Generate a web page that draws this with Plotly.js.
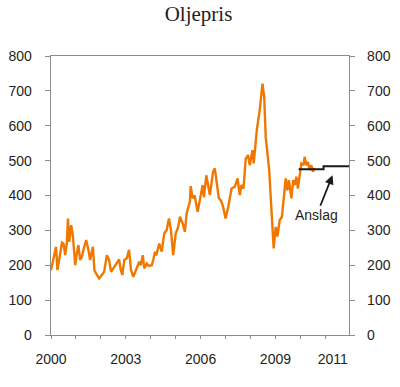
<!DOCTYPE html>
<html>
<head>
<meta charset="utf-8">
<script src="https://cdn.plot.ly/plotly-3.0.1.min.js"></script>
<style>html,body{margin:0;padding:0;background:#fff;}#chart{width:400px;height:387px;}</style>
</head>
<body>
<div id="chart"></div>
<script>
// Oil price (NOK per barrel), decimal years
const years = [2000.00,2000.08,2000.14,2000.20,2000.26,2000.37,2000.44,2000.50,2000.57,2000.64,2000.68,2000.73,2000.81,2000.88,2000.97,
2001.04,2001.10,2001.17,2001.24,2001.32,2001.41,2001.50,2001.57,2001.68,2001.74,2001.84,2001.93,
2002.04,2002.13,2002.24,2002.33,2002.41,2002.50,2002.64,2002.73,2002.80,2002.86,2002.94,
2003.04,2003.13,2003.21,2003.30,2003.44,2003.54,2003.60,2003.68,2003.74,2003.84,2003.92,
2004.04,2004.10,2004.17,2004.22,2004.34,2004.44,2004.54,2004.64,2004.73,2004.81,2004.90,
2005.00,2005.10,2005.17,2005.28,2005.37,2005.44,2005.57,2005.60,2005.68,2005.76,2005.88,
2006.00,2006.08,2006.13,2006.23,2006.37,2006.50,2006.57,2006.67,2006.73,2006.82,2006.90,
2007.00,2007.11,2007.24,2007.37,2007.48,2007.57,2007.64,2007.72,2007.81,2007.90,2007.97,
2008.08,2008.13,2008.17,2008.21,2008.26,2008.37,2008.48,2008.55,2008.61,2008.68,2008.75,2008.81,2008.86,2008.93,
2009.01,2009.08,2009.17,2009.26,2009.34,2009.41,2009.48,2009.54,2009.64,2009.71,2009.77,2009.84,2009.90,2009.97,
2010.04,2010.13,2010.17,2010.24,2010.30,2010.37,2010.44,2010.50,2010.57];
const prices = [186,210,229,253,186,234,265,262,229,267,334,267,315,282,200,
235,258,215,224,250,272,244,215,253,186,172,162,
172,181,229,215,181,191,210,217,186,172,215,
220,244,186,167,191,210,200,229,191,205,198,
200,215,239,228,262,239,291,301,334,301,229,
291,310,339,320,296,349,382,427,392,400,353,
400,430,395,458,401,468,478,425,392,385,368,
334,368,420,425,449,401,430,420,506,516,487,
530,492,540,554,592,645,721,683,568,521,473,396,320,248,
310,282,329,339,396,449,415,444,392,444,430,454,420,458,
492,487,511,487,497,473,487,468,478];

// Forecast ("Anslag")
const forecastYears = [2009.93, 2010.93, 2011.95];
const forecastValues = [475, 484, 484];

const yTicks = [0,100,200,300,400,500,600,700,800];
const xTickVals = [2000, 2003, 2006, 2009, 2011.3];
const xTickText = ['2000','2003','2006','2009','2011'];

const axisColor = '#8c8c8c';
const textFont = {family:'"Liberation Sans", Arial, sans-serif', size:14, color:'#231f20'};

const data = [
  {x: years, y: prices, type:'scatter', mode:'lines', line:{color:'#f07800', width:2.4}, hoverinfo:'skip'},
  {x: forecastYears, y: forecastValues, type:'scatter', mode:'lines', line:{color:'#1a1a1a', width:2, shape:'hv'}, yaxis:'y2', hoverinfo:'skip'}
];

const layout = {
  width:400, height:387,
  margin:{l:51, r:51, t:56, b:52},
  paper_bgcolor:'#fff', plot_bgcolor:'#fff',
  showlegend:false,
  title:{text:'Oljepris', font:{family:'"Liberation Serif", "Times New Roman", serif', size:21, color:'#231f20'}, x:0.495, xanchor:'center', xref:'paper', y:0.965, yanchor:'middle', yref:'container'},
  xaxis:{range:[2000, 2011.95], showgrid:false, zeroline:false, showline:true, linecolor:axisColor, linewidth:1.3, mirror:true,
    tickmode:'array', tickvals:xTickVals, ticktext:xTickText, ticks:'', tickfont:textFont, ticklabelstandoff:11,
    minor:{tickmode:'linear', tick0:2000, dtick:1, ticks:'outside', ticklen:3, tickcolor:axisColor, tickwidth:1, showgrid:false}},
  yaxis:{range:[0,800], tickmode:'array', tickvals:yTicks, showgrid:false, zeroline:false, showline:true, linecolor:axisColor, linewidth:1.3,
    ticks:'outside', ticklen:5, tickcolor:axisColor, tickfont:textFont, ticklabelstandoff:10},
  yaxis2:{range:[0,800], overlaying:'y', side:'right', tickmode:'array', tickvals:yTicks, showgrid:false, zeroline:false, showline:true, linecolor:axisColor, linewidth:1.3,
    ticks:'outside', ticklen:5, tickcolor:axisColor, tickfont:textFont, ticklabelstandoff:9},
  annotations:[{x:2011.29, y:458, xref:'x', yref:'y', text:'Anslag', showarrow:true, arrowhead:2, arrowsize:1, arrowwidth:1.8, arrowcolor:'#1a1a1a',
    ax:-16, ay:40, font:textFont}]
};

Plotly.newPlot('chart', data, layout, {staticPlot:true, displayModeBar:false});
</script>
</body>
</html>
